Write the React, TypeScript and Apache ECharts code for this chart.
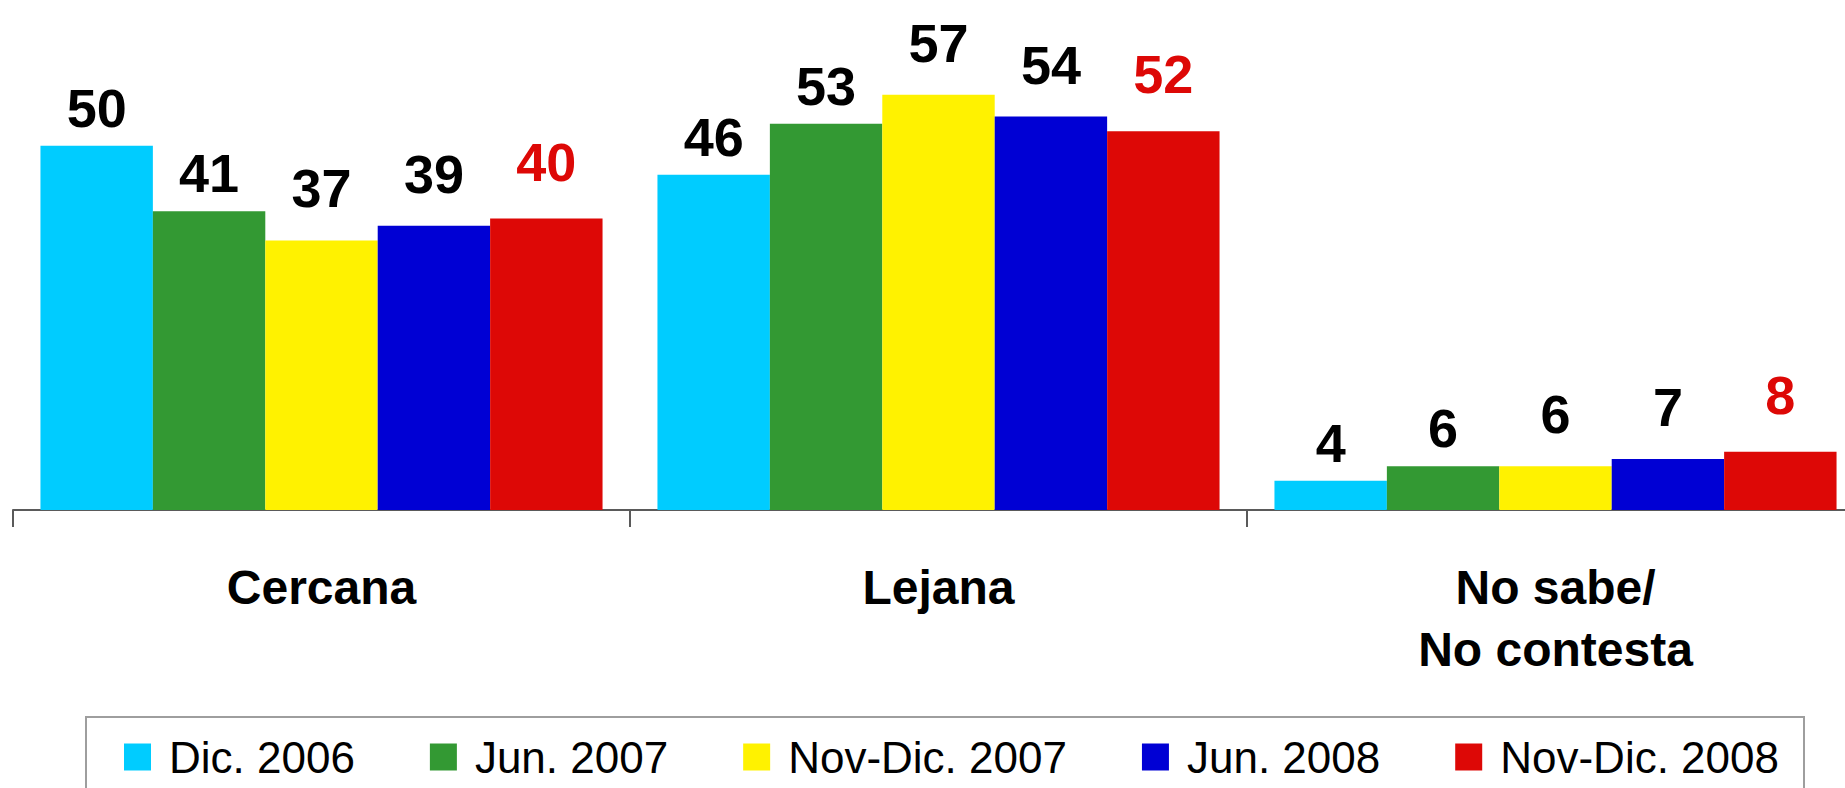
import React, { useEffect, useRef } from "react";
import * as echarts from "echarts";

const categories = ["Cercana", "Lejana", "No sabe/\nNo contesta"];
const seriesNames = ["Dic. 2006", "Jun. 2007", "Nov-Dic. 2007", "Jun. 2008", "Nov-Dic. 2008"];
const dic2006 = [50, 46, 4];
const jun2007 = [41, 53, 6];
const novDic2007 = [37, 57, 6];
const jun2008 = [39, 54, 7];
const novDic2008 = [40, 52, 8];

const seriesValues = [dic2006, jun2007, novDic2007, jun2008, novDic2008];
const colors = ["#00CCFF", "#339933", "#FFF200", "#0000D4", "#DD0806"];
const labelColors = ["#000000", "#000000", "#000000", "#000000", "#DD0806"];
const labelDistances = [11, 11, 25, 25, 30];

const FONT = "'Liberation Sans', Arial, Helvetica, sans-serif";

export default function App() {
  const ref = useRef<HTMLDivElement>(null);

  useEffect(() => {
    if (!ref.current) return;
    const chart = echarts.init(ref.current, undefined, { renderer: "svg" });
    chart.setOption({
      animation: false,
      backgroundColor: "#ffffff",
      grid: {
        left: 13,
        top: 0,
        width: 1851,
        height: 510,
        containLabel: false,
        outerBoundsMode: "none",
      },
      xAxis: {
        type: "category",
        data: categories,
        axisLine: { show: true, lineStyle: { color: "#5a5a5a", width: 2 } },
        axisTick: { show: true, length: 17, lineStyle: { color: "#5a5a5a", width: 2 } },
        axisLabel: {
          interval: 0,
          margin: 46,
          fontSize: 48,
          fontWeight: "bold",
          lineHeight: 62,
          color: "#000000",
          fontFamily: FONT,
        },
      },
      yAxis: {
        type: "value",
        min: 0,
        max: 70,
        show: false,
        splitLine: { show: false },
      },
      legend: {
        left: 124,
        top: 735,
        padding: 0,
        itemWidth: 27,
        itemHeight: 27,
        itemGap: 75,
        icon: "rect",
        data: seriesNames,
        textStyle: {
          fontSize: 44,
          color: "#000000",
          fontFamily: FONT,
          padding: [0, 0, 0, 13],
        },
      },
      graphic: [
        {
          type: "rect",
          shape: { x: 86, y: 717, width: 1718, height: 120 },
          style: { fill: "none", stroke: "#9e9e9e", lineWidth: 2 },
          silent: true,
          z: -1,
        },
      ],
      series: seriesValues.map((vals, i) => ({
        name: seriesNames[i],
        type: "bar",
        data: vals,
        barGap: "0%",
        barCategoryGap: "8.9%",
        itemStyle: { color: colors[i] },
        label: {
          show: true,
          position: "top",
          distance: labelDistances[i],
          fontSize: 54,
          fontWeight: "bold",
          color: labelColors[i],
          fontFamily: FONT,
        },
      })),
    });
    return () => chart.dispose();
  }, []);

  return (
    <div
      ref={ref}
      style={{ position: "fixed", left: 0, top: 0, width: "1845px", height: "788px", overflow: "hidden" }}
    />
  );
}
